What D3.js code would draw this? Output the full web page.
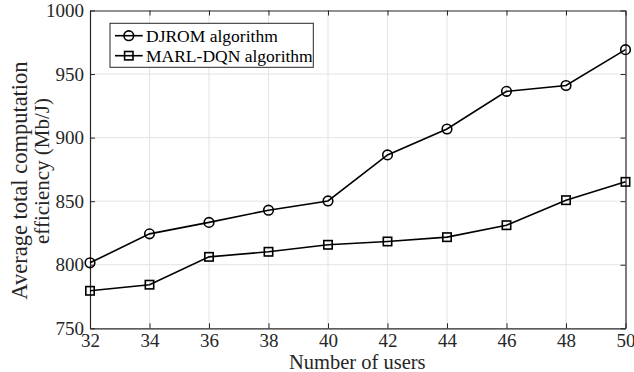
<!DOCTYPE html>
<html>
<head>
<meta charset="utf-8">
<script src="https://cdn.jsdelivr.net/npm/d3@7"></script>
<style>
  html, body { margin: 0; padding: 0; background: #fff; }
  svg { display: block; }
  svg text { font-family: "Liberation Serif", "Times New Roman", serif; }
</style>
</head>
<body>
<svg id="chart" width="634" height="372"></svg>
<script>
// Number of users on the x axis
const users = [32, 34, 36, 38, 40, 42, 44, 46, 48, 50];
// Average total computation efficiency (Mb/J)
const djrom = [801.5, 824.3, 833.3, 842.9, 850.2, 886.4, 906.8, 936.4, 941.0, 969.2];
const marlDqn = [779.5, 784.3, 806.2, 810.2, 815.7, 818.3, 821.7, 831.1, 850.8, 865.2];
const xTicks = [32, 34, 36, 38, 40, 42, 44, 46, 48, 50];
const yTicks = [750, 800, 850, 900, 950, 1000];
const seriesNames = ["DJROM algorithm", "MARL-DQN algorithm"];

const svg = d3.select("#chart");
const plotL = 90, plotR = 625.5, plotT = 10.5, plotB = 328.3;

const x = d3.scaleLinear().domain([32, 50]).range([plotL, plotR]);
const y = d3.scaleLinear().domain([750, 1000]).range([plotB, plotT]);

const axisColor = "#262626";
const gridColor = "#e3e3e3";
const serif = "'Liberation Serif', 'Times New Roman', serif";

// grid
const grid = svg.append("g");
grid.selectAll(".gx").data(xTicks.slice(1, -1)).join("line")
  .attr("x1", d => x(d)).attr("x2", d => x(d))
  .attr("y1", plotT).attr("y2", plotB)
  .attr("stroke", gridColor).attr("stroke-width", 1);
grid.selectAll(".gy").data(yTicks.slice(1, -1)).join("line")
  .attr("x1", plotL).attr("x2", plotR)
  .attr("y1", d => y(d)).attr("y2", d => y(d))
  .attr("stroke", gridColor).attr("stroke-width", 1);

// axes with inward ticks on all four sides
const tickLen = 5;
const fontTick = 19;
const fmt = d3.format("d");
const xAxis = svg.append("g").attr("transform", `translate(0,${plotB})`)
  .call(d3.axisBottom(x).tickValues(xTicks).tickFormat(fmt).tickSize(-tickLen).tickPadding(5).tickSizeOuter(0));
const xTop = svg.append("g").attr("transform", `translate(0,${plotT})`)
  .call(d3.axisTop(x).tickValues(xTicks).tickSize(-tickLen).tickFormat("").tickSizeOuter(0));
const yAxis = svg.append("g").attr("transform", `translate(${plotL},0)`)
  .call(d3.axisLeft(y).tickValues(yTicks).tickFormat(fmt).tickSize(-tickLen).tickPadding(6).tickSizeOuter(0));
const yRight = svg.append("g").attr("transform", `translate(${plotR},0)`)
  .call(d3.axisRight(y).tickValues(yTicks).tickSize(-tickLen).tickFormat("").tickSizeOuter(0));

[xAxis, xTop, yAxis, yRight].forEach(g => {
  g.attr("font-family", serif).attr("font-size", fontTick);
  g.select(".domain").attr("stroke", axisColor).attr("stroke-width", 1.2);
  g.selectAll(".tick line").attr("stroke", axisColor).attr("stroke-width", 1);
  g.selectAll("text").attr("fill", "#262626");
});
xAxis.selectAll("text").attr("dy", "0.71em");
yAxis.selectAll("text").attr("dy", "0.32em");

// axis labels
svg.append("text")
  .attr("x", (plotL + plotR) / 2 - 0.5).attr("y", 369)
  .attr("text-anchor", "middle").attr("fill", "#262626")
  .attr("font-size", 20.5).text("Number of users");

const yl = svg.append("g").attr("transform", "translate(0,180.5) rotate(-90)");
yl.append("text").attr("x", 0).attr("y", 27).attr("text-anchor", "middle")
  .attr("fill", "#262626").attr("font-size", 22.5).text("Average total computation");
yl.append("text").attr("x", 9.5).attr("y", 49).attr("text-anchor", "middle")
  .attr("fill", "#262626").attr("font-size", 21).text("efficiency (Mb/J)");

// series
const line = d3.line().x((d, i) => x(users[i])).y(d => y(d));
const lw = 1.6;

function drawMarker(g, cx, cy, marker) {
  if (marker === "circle") {
    g.append("circle").attr("cx", cx).attr("cy", cy).attr("r", 4.8)
      .attr("fill", "none").attr("stroke", "#000").attr("stroke-width", lw);
  } else {
    const s = 8.4;
    g.append("rect").attr("x", cx - s / 2).attr("y", cy - s / 2)
      .attr("width", s).attr("height", s)
      .attr("fill", "none").attr("stroke", "#000").attr("stroke-width", lw);
  }
}

function drawSeries(values, marker) {
  svg.append("path").datum(values).attr("d", line)
    .attr("fill", "none").attr("stroke", "#000").attr("stroke-width", lw);
  const g = svg.append("g");
  values.forEach((v, i) => drawMarker(g, x(users[i]), y(v), marker));
}

drawSeries(djrom, "circle");
drawSeries(marlDqn, "square");

// legend
const lg = svg.append("g");
lg.append("rect").attr("x", 110).attr("y", 23.3).attr("width", 203.3).attr("height", 44)
  .attr("fill", "#fff").attr("stroke", "#262626").attr("stroke-width", 1);
const entries = [
  { name: seriesNames[0], marker: "circle", cy: 35.7 },
  { name: seriesNames[1], marker: "square", cy: 55.7 }
];
entries.forEach(e => {
  lg.append("line").attr("x1", 115).attr("x2", 142.7).attr("y1", e.cy).attr("y2", e.cy)
    .attr("stroke", "#000").attr("stroke-width", lw);
  drawMarker(lg, 128.8, e.cy, e.marker);
  lg.append("text").attr("x", 146).attr("y", e.cy).attr("dy", "0.35em")
    .attr("fill", "#000").attr("font-size", 17.5).text(e.name);
});
</script>
</body>
</html>
